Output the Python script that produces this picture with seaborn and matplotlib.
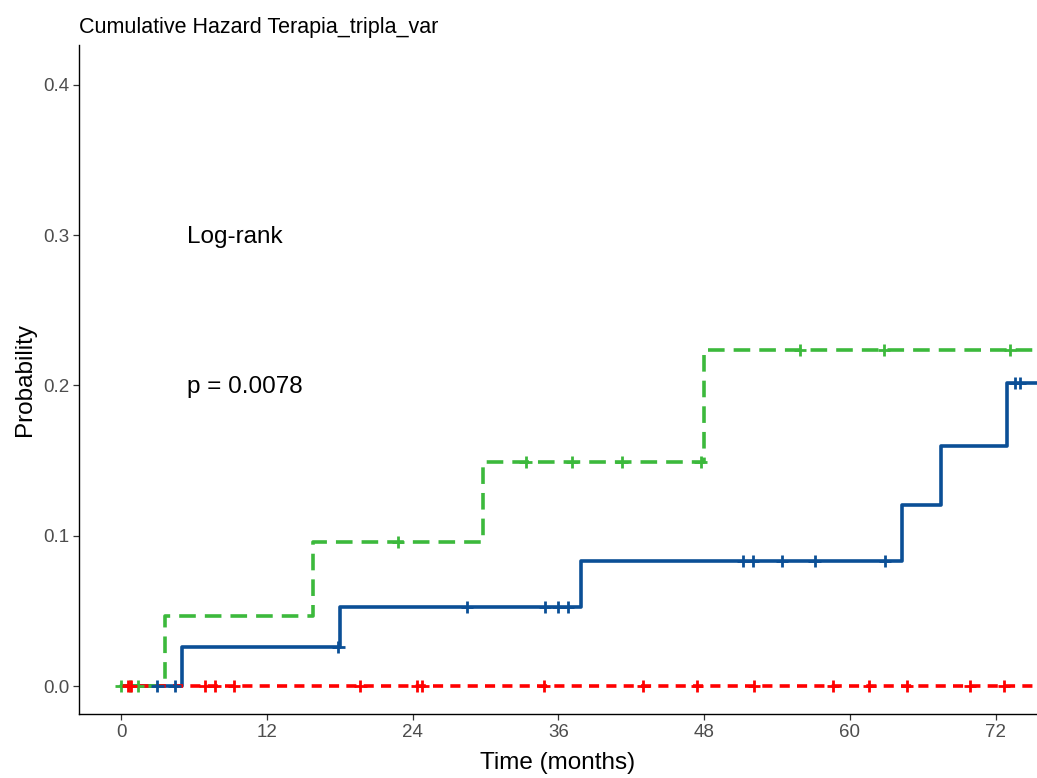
import numpy as np
import pandas as pd
import matplotlib
matplotlib.use("Agg")
import matplotlib.pyplot as plt
import seaborn as sns

# Step functions of the cumulative hazard per group (time in months, hazard level)
blue_times = [0, 5.0, 18.0, 37.9, 64.3, 67.5, 72.9, 75.5]
blue_levels = [0.0, 0.026, 0.0526, 0.0832, 0.1204, 0.1597, 0.2016, 0.2016]
green_times = [0, 3.6, 15.8, 29.8, 48.0, 75.5]
green_levels = [0.0, 0.0466, 0.0958, 0.149, 0.2236, 0.2236]
red_times = [0, 75.5]
red_levels = [0.0, 0.0]

# Censoring times per group
blue_censor = [3.0, 4.4, 17.9, 28.5, 34.9, 36.0, 36.8, 51.2, 52.0, 54.4, 57.1, 62.9, 73.6, 74.0]
green_censor = [0.0, 0.7, 1.4, 22.8, 33.3, 37.1, 41.2, 47.7, 55.9, 62.8, 73.2]
red_censor = [0.6, 0.8, 6.9, 7.7, 9.3, 19.7, 24.4, 24.8, 34.8, 43.0, 47.4, 52.1,
              58.6, 61.6, 64.7, 69.9, 72.7]

groups = ["A", "B", "C"]
colors = {"A": "#0B4F96", "B": "#3CB93C", "C": "#FF0000"}


def step_value(times, levels, t):
    idx = np.searchsorted(times, t, side="right") - 1
    return levels[max(idx, 0)]


curves = pd.concat([
    pd.DataFrame({"time": blue_times, "hazard": blue_levels, "group": "A"}),
    pd.DataFrame({"time": green_times, "hazard": green_levels, "group": "B"}),
    pd.DataFrame({"time": red_times, "hazard": red_levels, "group": "C"}),
], ignore_index=True)

censor = pd.concat([
    pd.DataFrame({"time": blue_censor,
                  "hazard": [step_value(blue_times, blue_levels, t) for t in blue_censor],
                  "group": "A"}),
    pd.DataFrame({"time": green_censor,
                  "hazard": [step_value(green_times, green_levels, t) for t in green_censor],
                  "group": "B"}),
    pd.DataFrame({"time": red_censor,
                  "hazard": [step_value(red_times, red_levels, t) for t in red_censor],
                  "group": "C"}),
], ignore_index=True)

sns.set_style("white")
plt.rcParams["font.family"] = ["Liberation Sans", "DejaVu Sans"]

fig = plt.figure(figsize=(10.37, 7.78), dpi=100)
ax = fig.add_axes([0.0762, 0.0823, 0.9238, 0.8597])

sns.lineplot(data=curves, x="time", y="hazard", hue="group", style="group",
             palette=colors, dashes={"A": "", "B": (4.6, 2.5), "C": (2.8, 2.0)},
             drawstyle="steps-post", estimator=None, sort=False,
             linewidth=2.6, legend=False, ax=ax)

sns.scatterplot(data=censor, x="time", y="hazard", hue="group", palette=colors,
                marker="+", s=80, linewidth=2.0, legend=False, ax=ax, zorder=3)

ax.text(5.4, 0.299, "Log-rank", fontsize=17.5, color="black", va="center")
ax.text(5.4, 0.199, "p = 0.0078", fontsize=17.5, color="black", va="center")

ax.set_xlim(-3.46, 75.4)
ax.set_ylim(-0.0186, 0.4265)
ax.set_xticks([0, 12, 24, 36, 48, 60, 72])
ax.set_yticks([0.0, 0.1, 0.2, 0.3, 0.4])
ax.set_yticklabels(["0.0", "0.1", "0.2", "0.3", "0.4"])
ax.tick_params(axis="both", which="both", direction="out", length=4, width=0.9,
               color="#333333", labelcolor="#4D4D4D", labelsize=13.5, bottom=True, left=True,
               pad=3)
for side in ["top", "right"]:
    ax.spines[side].set_visible(False)
for side in ["left", "bottom"]:
    ax.spines[side].set_color("black")
    ax.spines[side].set_linewidth(1.0)

ax.set_xlabel("Time (months)", fontsize=17.5, color="black", labelpad=8)
ax.set_ylabel("Probability", fontsize=17.5, color="black", labelpad=5)
fig.text(0.0762, 0.965, "Cumulative Hazard Terapia_tripla_var", fontsize=15.5,
         color="black", va="center", ha="left")

fig.savefig("out.png", dpi=100)
